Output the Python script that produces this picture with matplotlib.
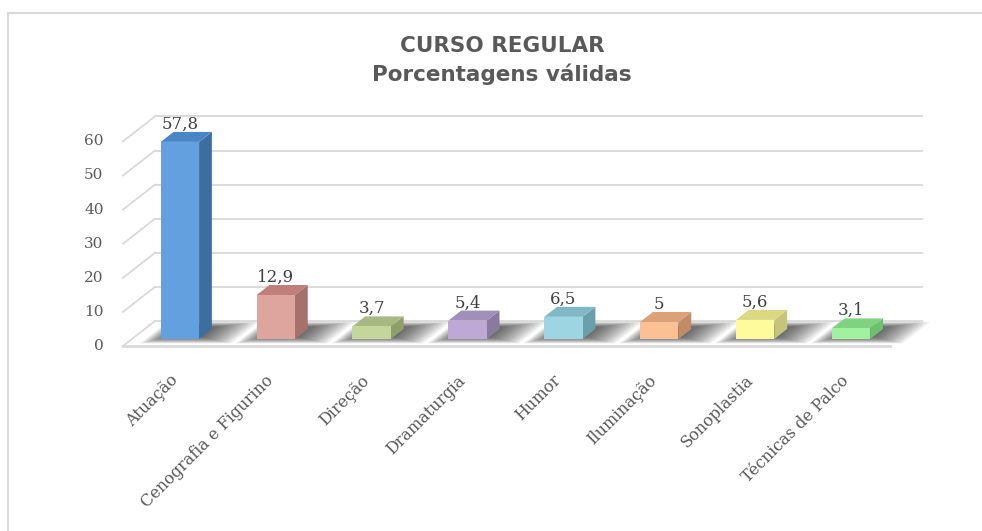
import matplotlib
matplotlib.use('Agg')
import matplotlib.pyplot as plt
from matplotlib.patches import Polygon
from matplotlib.lines import Line2D
import numpy as np

categories = ["Atuação", "Cenografia e Figurino", "Direção", "Dramaturgia",
              "Humor", "Iluminação", "Sonoplastia", "Técnicas de Palco"]
values = [57.8, 12.9, 3.7, 5.4, 6.5, 5.0, 5.6, 3.1]
value_labels = ["57,8", "12,9", "3,7", "5,4", "6,5", "5", "5,6", "3,1"]
yticks = [0, 10, 20, 30, 40, 50, 60]
title_lines = ["CURSO REGULAR", "Porcentagens válidas"]

front_colors = ["#62a0e0", "#dea49e", "#c4d69c", "#bea8d6", "#9ed5e2", "#fbc094", "#fdfb9c", "#a0f2a0"]
side_colors = ["#3e6e9e", "#a6716c", "#8e9f6a", "#8a7b9e", "#6a9fab", "#c28c66", "#c6c47a", "#6cc26c"]
top_colors = ["#4a85c6", "#bf7f7a", "#a7b982", "#a08fb8", "#80b8c6", "#daa276", "#dad882", "#7fd27f"]

SERIF = "DejaVu Serif"
grid_c = "#d9d9d9"

fig = plt.figure(figsize=(9.82, 5.31), dpi=100)
ax = fig.add_axes([0.12525, 0.3484, 0.78106, 0.44953])
ax.set_xlim(-0.5, 7.5)
ax.set_ylim(0, 70)
ax.axis('off')

DX, DY = 0.334, 7.33      # depth of the floor in data units
F0, F1 = 0.28, 0.68       # bar front / back depth fractions
W = 0.4
n = len(categories)
x = np.arange(n)
x0, x1 = -0.5, n - 0.5

# back wall gridlines and left wall lines
for v in yticks:
    ax.plot([x0 + DX, x1 + DX], [v + DY, v + DY], color=grid_c, lw=1.3, clip_on=False, zorder=1)
    ax.plot([x0, x0 + DX], [v, v + DY], color=grid_c, lw=1.3, clip_on=False, zorder=1)
# floor front edge
ax.plot([x0, x1], [0, 0], color=grid_c, lw=2.0, clip_on=False, zorder=1)

def fp(xf, t, h=0.0):
    return (xf + t * DX, t * DY + h)

# soft shadows on floor
L = 18
for i in range(n):
    for k in range(L):
        s = k / (L - 1)
        xl = x[i] - W / 2 - 0.16 * (1 - s) + 0.03 * s
        xr = x[i] + W / 2 + 0.02 + 0.38 * (1 - s)
        t0 = 0.1 + 0.25 * s
        t1 = 0.97 - 0.2 * s
        poly = Polygon([fp(xl, t0), fp(xr, t0), fp(xr, t1), fp(xl, t1)],
                       closed=True, facecolor='black', edgecolor='none',
                       alpha=0.045, zorder=2, clip_on=False)
        ax.add_patch(poly)

# bars: front face
ax.bar(x + F0 * DX, values, width=W, bottom=F0 * DY, color=front_colors,
       zorder=5, clip_on=False, linewidth=0)
for i, v in enumerate(values):
    xl = x[i] - W / 2
    xr = x[i] + W / 2
    side = Polygon([fp(xr, F0), fp(xr, F1), fp(xr, F1, v), fp(xr, F0, v)],
                   closed=True, facecolor=side_colors[i], edgecolor='none',
                   zorder=4, clip_on=False)
    top = Polygon([fp(xl, F0, v), fp(xr, F0, v), fp(xr, F1, v), fp(xl, F1, v)],
                  closed=True, facecolor=top_colors[i], edgecolor='none',
                  zorder=4, clip_on=False)
    ax.add_patch(side)
    ax.add_patch(top)
    ax.annotate(value_labels[i], fp(x[i], F0, v), xytext=(0, 9.5),
                textcoords='offset points', ha='center', va='baseline',
                fontsize=12, family=SERIF, color='#404040', zorder=6,
                annotation_clip=False)

# y tick labels
for v in yticks:
    ax.annotate(str(v), (x0, v), xytext=(-14, 0), textcoords='offset points',
                ha='right', va='center', fontsize=11, family=SERIF,
                color='#595959', annotation_clip=False)

# x tick labels
for i, c in enumerate(categories):
    ax.annotate(c, (x[i], 0), xytext=(3, -23), textcoords='offset points',
                ha='right', va='center', rotation=45, rotation_mode='anchor',
                fontsize=11.5, family=SERIF, color='#595959',
                annotation_clip=False)

# title
fig.text(502 / 982, 1 - 46 / 531, title_lines[0], ha='center', va='center',
         fontsize=15.5, fontweight='bold', family='DejaVu Sans', color='#595959')
fig.text(502 / 982, 1 - 74 / 531, title_lines[1], ha='center', va='center',
         fontsize=15.5, fontweight='bold', family='DejaVu Sans', color='#595959')

# outer border (top and left visible)
fig.add_artist(Line2D([8 / 982, 1], [1 - 13 / 531, 1 - 13 / 531],
                      transform=fig.transFigure, color=grid_c, lw=1.5))
fig.add_artist(Line2D([8 / 982, 8 / 982], [0, 1 - 13 / 531],
                      transform=fig.transFigure, color=grid_c, lw=1.5))

fig.savefig("out.png", dpi=100)
